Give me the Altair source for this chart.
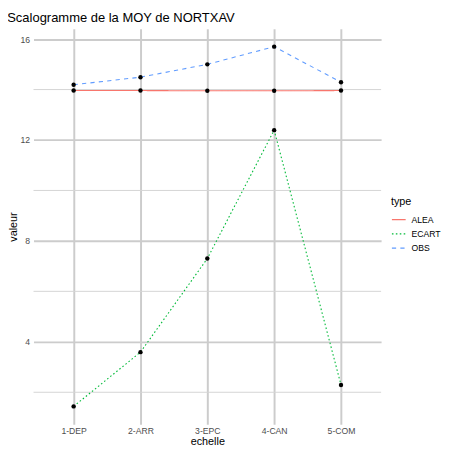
import altair as alt
import pandas as pd

categories = ["1-DEP", "2-ARR", "3-EPC", "4-CAN", "5-COM"]
alea = [13.96, 13.96, 13.95, 13.95, 13.96]
ecart = [1.44, 3.59, 7.30, 12.39, 2.29]
obs = [14.19, 14.49, 15.00, 15.70, 14.29]
types = ["ALEA", "ECART", "OBS"]
major_ticks = [4, 8, 12, 16]
minor_ticks = [2, 6, 10, 14]

rows = []
for t, vals in zip(types, [alea, ecart, obs]):
    for c, v in zip(categories, vals):
        rows.append({"echelle": c, "valeur": v, "type": t})
df = pd.DataFrame(rows)
minor_df = pd.DataFrame({"v": minor_ticks})

FONT = "Liberation Sans"
ymin, ymax = min(ecart), max(obs)
ex = (ymax - ymin) * 0.05
ydom = [ymin - ex, ymax + ex]

x_enc = alt.X("echelle:N", sort=categories, title="echelle",
              scale=alt.Scale(type="point", padding=0.6),
              axis=alt.Axis(labelAngle=0, grid=True, gridColor="#cccccc", gridWidth=2,
                            ticks=False, domain=False, labelPadding=2,
                            labelFontSize=8.8, labelColor="#4d4d4d", labelFont=FONT,
                            titleFontSize=11, titleFont=FONT, titleFontWeight="normal",
                            titleColor="#000000", titlePadding=1))
y_enc = alt.Y("valeur:Q", title="valeur",
              scale=alt.Scale(domain=ydom, nice=False, zero=False),
              axis=alt.Axis(values=major_ticks, format="d", grid=True, gridColor="#cccccc",
                            gridWidth=2, ticks=False, domain=False, labelPadding=4,
                            labelFontSize=8.8, labelColor="#4d4d4d", labelFont=FONT,
                            titleFontSize=11, titleFont=FONT, titleFontWeight="normal",
                            titleColor="#000000", titlePadding=2))

minor = alt.Chart(minor_df).mark_rule(color="#d4d4d4", strokeWidth=1).encode(
    y=alt.Y("v:Q", scale=alt.Scale(domain=ydom, nice=False, zero=False))
)

lines = alt.Chart(df).mark_line(strokeWidth=1.1).encode(
    x=x_enc,
    y=y_enc,
    color=alt.Color("type:N", title="type",
                    scale=alt.Scale(domain=types, range=["#F8766D", "#00BA38", "#619CFF"])),
    strokeDash=alt.StrokeDash("type:N", title="type",
                              scale=alt.Scale(domain=types, range=[[1, 0], [1.6, 2.4], [4.3, 4.3]])),
)

points = alt.Chart(df).mark_point(filled=True, color="black", size=20, opacity=1).encode(
    x=alt.X("echelle:N", sort=categories),
    y=alt.Y("valeur:Q"),
)

chart = alt.layer(minor, lines, points).properties(
    width=354,
    height=403,
    title=alt.TitleParams("Scalogramme de la MOY de NORTXAV", anchor="start",
                          font=FONT, fontSize=13.2, fontWeight="normal", color="#000000",
                          offset=4),
    autosize=alt.AutoSizeParams(type="none"),
    padding={"left": 26, "top": 17, "right": 61, "bottom": 20},
).configure_view(stroke=None).configure_legend(
    orient="none", legendX=364, legendY=171,
    titleFont=FONT, titleFontSize=11, titleFontWeight="normal", titleColor="#000000",
    labelFont=FONT, labelFontSize=8.8, labelColor="#000000",
    symbolSize=196, symbolStrokeWidth=1.1, labelOffset=5, rowPadding=1.5, titlePadding=4.5,
)

chart.save("out.html", embed_options={"renderer": "svg", "actions": False})
